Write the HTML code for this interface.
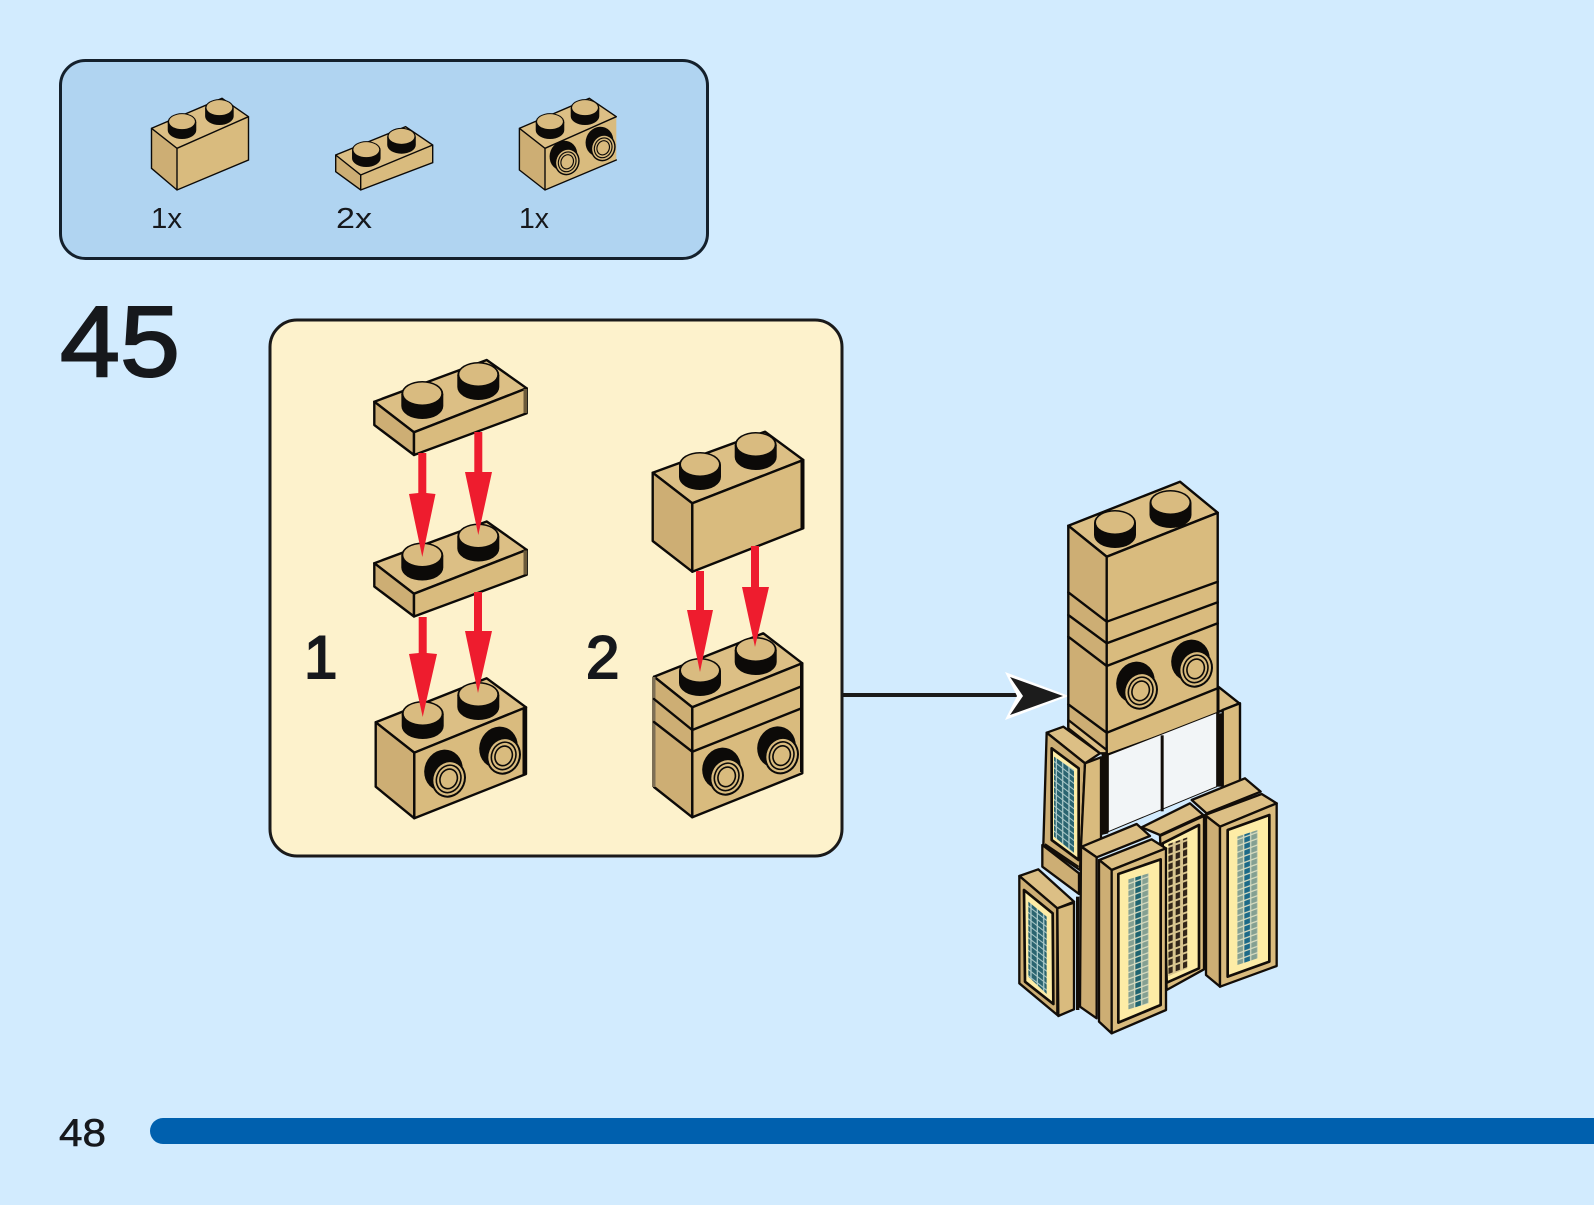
<!DOCTYPE html>
<html><head><meta charset="utf-8"><style>
html,body{margin:0;padding:0;background:#d2ebfe}
svg{display:block}
text{font-family:"Liberation Sans",sans-serif;fill:#16181c}
.t{fill:#dcbf85}.r{fill:#d9bb7e}.l{fill:#cdae74}
.o{stroke:#0c0a08;stroke-width:2.4;stroke-linejoin:round;stroke-linecap:round}
.n{fill:none;stroke:#0c0a08;stroke-width:2.4;stroke-linecap:round}
.z{stroke:#120d08;stroke-width:7;stroke-linejoin:round}
.zc{fill:#fdeca6;stroke:#120d08;stroke-width:8;stroke-linejoin:round}
</style></head><body>
<svg xmlns="http://www.w3.org/2000/svg" width="1594" height="1205" viewBox="0 0 1594 1205">
<defs>
<g id="stud"><path d="M-21 0V12A21 13 0 0 0 21 12V0Z" fill="#0c0a08"/><ellipse rx="21" ry="13" fill="#0c0a08"/><ellipse cy="-.5" rx="19" ry="11" fill="#d9bb80"/></g>
<g id="side"><ellipse cx="-5" cy="-3" rx="19" ry="21" transform="rotate(22)" fill="#0c0a08"/><ellipse cx="3" cy="3" rx="16" ry="18" transform="rotate(22)" fill="#d9bb7e" stroke="#0c0a08" stroke-width="2"/><ellipse cx="3" cy="3" rx="12" ry="14" transform="rotate(22)" fill="none" stroke="#0c0a08" stroke-width="1.6"/><ellipse cx="3" cy="3" rx="8.5" ry="10" transform="rotate(22)" fill="none" stroke="#0c0a08" stroke-width="1.6"/></g>
<g id="plate">
<polygon class="t o" points="374.3,401.7 486.7,360 526.7,388.3 414,432.3"/>
<polygon class="l o" points="374.3,401.7 414,432.3 414,455 374.3,425"/>
<polygon class="r o" points="414,432.3 526.7,388.3 526.7,413.3 414,455"/>
<rect x="523.5" y="389" width="3.5" height="24" fill="#6b5a3a"/>
<use href="#stud" x="422.3" y="394"/><use href="#stud" x="478.3" y="375"/>
</g>
<pattern id="pa" width="19" height="19" patternUnits="userSpaceOnUse" patternTransform="skewY(38)"><rect width="19" height="19" fill="#a9c8c8"/><rect width="15" height="15" fill="#2a6470"/></pattern>
<pattern id="pb" width="61" height="19" patternUnits="userSpaceOnUse" patternTransform="translate(712 0) skewY(-20)"><rect width="61" height="19" fill="#d8dcc0"/><rect width="17" height="15" fill="#84a092"/><rect x="21" width="17" height="15" fill="#1c6a88"/><rect x="42" width="17" height="15" fill="#84a092"/></pattern>
<pattern id="pc" width="61" height="19" patternUnits="userSpaceOnUse" patternTransform="translate(385 0) skewY(-20)"><rect width="61" height="19" fill="#d8dcc0"/><rect width="17" height="15" fill="#84a092"/><rect x="21" width="17" height="15" fill="#1f6470"/><rect x="42" width="17" height="15" fill="#84a092"/></pattern>
<pattern id="pd" width="22" height="24" patternUnits="userSpaceOnUse" patternTransform="translate(505 0) skewY(-20)"><rect width="22" height="24" fill="#d9c58f"/><rect width="13" height="18" fill="#33261a"/></pattern>
</defs>
<rect width="1594" height="1205" fill="#d2ebfe"/>

<!-- parts panel -->
<rect x="60.5" y="60.5" width="647" height="198" rx="25" fill="#b0d4f1" stroke="#14202c" stroke-width="3"/>
<g>
<polygon class="t" points="151.5,128.3 222,98.3 248.5,116.7 177,148.3"/>
<polygon class="l" points="151.5,128.3 177,148.3 177,190 151.5,168.3"/>
<polygon class="r" points="177,148.3 248.5,116.7 248.5,160 177,190"/>
<path class="n" style="stroke-width:1.4" d="M151.5 168.3V128.3L222 98.3 248.5 116.7V160L177 190 151.5 168.3M151.5 128.3L177 148.3V190M177 148.3L248.5 116.7"/>
<use href="#stud" transform="translate(182 122) scale(.68)"/><use href="#stud" transform="translate(219.4 108) scale(.68)"/>
<polygon class="t" points="335.7,155 405.6,126.7 432.7,145 360.7,175"/>
<polygon class="l" points="335.7,155 360.7,175 360.7,190 335.7,171.7"/>
<polygon class="r" points="360.7,175 432.7,145 432.7,162.7 360.7,190"/>
<path class="n" style="stroke-width:1.4" d="M335.7 171.7V155L405.6 126.7 432.7 145V162.7L360.7 190 335.7 171.7M335.7 155L360.7 175V190M360.7 175L432.7 145"/>
<use href="#stud" transform="translate(366.3 150) scale(.68)"/><use href="#stud" transform="translate(401.5 136.7) scale(.68)"/>
<polygon class="t" points="519.4,128.3 589.3,98.3 616.3,116.7 545,148.3"/>
<polygon class="l" points="519.4,128.3 545,148.3 545,190 519.4,170"/>
<polygon class="r" points="545,148.3 616.3,116.7 616.3,160 545,190"/>
<path class="n" style="stroke-width:1.4" d="M519.4 170V128.3L589.3 98.3 616.3 116.7M616.3 160L545 190 519.4 170M519.4 128.3L545 148.3V190M545 148.3L616.3 116.7"/>
<use href="#stud" transform="translate(550 122) scale(.68)"/><use href="#stud" transform="translate(585 108) scale(.68)"/>
<use href="#side" transform="translate(566 159) scale(.72)"/><use href="#side" transform="translate(602 145) scale(.72)"/>
<rect x="617" y="110" width="12" height="60" fill="#b0d4f1"/>
</g>
<text x="151" y="228" font-size="29" textLength="31" lengthAdjust="spacingAndGlyphs">1x</text>
<text x="336" y="228" font-size="29" textLength="36" lengthAdjust="spacingAndGlyphs">2x</text>
<text x="519" y="228" font-size="29" textLength="30" lengthAdjust="spacingAndGlyphs">1x</text>

<text x="60" y="376" font-size="100" textLength="120" lengthAdjust="spacingAndGlyphs" style="stroke:#16181c;stroke-width:2">45</text>

<!-- step panel -->
<rect x="270" y="320" width="572" height="536" rx="27" fill="#fdf2cc" stroke="#1a1a1a" stroke-width="3"/>
<text x="304" y="678" font-size="60" style="stroke:#16181c;stroke-width:2">1</text>
<text x="586" y="678" font-size="60" style="stroke:#16181c;stroke-width:2">2</text>

<!-- connector -->
<rect x="842" y="693" width="175" height="4" fill="#1a1a1a"/>
<polygon points="1005,672 1069,696 1005,720 1017,696" fill="#fff"/>
<polygon points="1010,677 1063,696 1010,715 1023,696" fill="#1c1c1c"/>

<!-- step 1 bricks -->
<use href="#plate"/>
<use href="#plate" y="161.5"/>
<polygon class="t o" points="375.7,722.3 486.7,678.3 526,707.3 414.3,752.7"/>
<polygon class="l o" points="375.7,722.3 414.3,752.7 414.3,818.3 375.7,786.7"/>
<polygon class="r o" points="414.3,752.7 526,707.3 526,774 414.3,818.3"/>
<rect x="522.5" y="708" width="4" height="66" fill="#0c0a08"/>
<use href="#stud" x="422.7" y="714"/><use href="#stud" x="478.3" y="695"/>
<use href="#side" x="447" y="775"/><use href="#side" x="502" y="752"/>

<!-- step 2 bricks -->
<polygon class="t o" points="652.7,472.7 765,431.7 803.3,460 692.3,503.3"/>
<polygon class="l o" points="652.7,472.7 692.3,503.3 692.3,571.7 652.7,541"/>
<polygon class="r o" points="692.3,503.3 803.3,460 803.3,528.3 692.3,571.7"/>
<rect x="800.5" y="460" width="3.5" height="68" fill="#0c0a08"/>
<use href="#stud" x="700" y="465"/><use href="#stud" x="755.7" y="445"/>

<polygon class="t o" points="654,676.7 763.3,633.3 802.3,663.3 692.3,707.3"/>
<polygon class="l o" points="654,676.7 692.3,707.3 692.3,817.3 654,787"/>
<polygon class="r o" points="692.3,707.3 802.3,663.3 802.3,773.3 692.3,817.3"/>
<rect x="652" y="677" width="3.5" height="110" fill="#7d6f55"/>
<rect x="800" y="664" width="3.5" height="108" fill="#0c0a08"/>
<path class="n" d="M654 699L692.3 730 802.3 686M654 722L692.3 751.7 802.3 708"/>
<use href="#stud" x="700" y="671"/><use href="#stud" x="755.7" y="650"/>
<use href="#side" x="725" y="773"/><use href="#side" x="780" y="751.7"/>

<!-- arrows -->
<g fill="#ee1c2e">
<polygon points="418.3,453 426.3,453 426.3,493 435.5,494 422.3,557 409,494 418.3,493"/>
<polygon points="474.3,432 482.3,432 482.3,472 492,472 478.3,535 465,472 474.3,472"/>
<polygon points="418.7,617 426.7,617 426.7,653 437,654 422.7,717 409,654 418.7,653"/>
<polygon points="474,592 482,592 482,631 492,631 478,693 465,631 474,631"/>
<polygon points="696,571 704,571 704,610 713,610 700,672 687,610 696,610"/>
<polygon points="751,546 759,546 759,587 769,587 755,647 742,587 751,587"/>
</g>

<!-- finished model: upper tower -->
<polygon class="t o" points="1068.3,525.7 1180,481.7 1217.7,512.7 1106.7,556.7"/>
<polygon class="l o" points="1068.3,525.7 1106.7,556.7 1106.7,755 1068.3,727"/>
<polygon class="r o" points="1106.7,556.7 1217.7,512.7 1217.7,715 1106.7,755"/>
<path class="n" d="M1068.3 592.3L1106.7 621.7 1217.7 581.7M1068.3 615L1106.7 643.3 1217.7 602.3M1068.3 636.7L1106.7 666 1217.7 623.3M1068.3 704.3L1106.7 732.7 1217.7 688.3"/>
<use href="#stud" x="1115" y="523"/><use href="#stud" x="1170.5" y="503"/>
<use href="#side" x="1139" y="687"/><use href="#side" x="1194" y="665"/>
<polygon class="t o" points="1218.3,686.7 1239.3,703.3 1218.3,712"/>
<polygon class="r o" points="1222.7,710 1240,703.3 1240,785 1222.7,790"/>

<g transform="translate(1000 720) scale(.33333)">
<!-- white windows -->
<polygon points="325,105 650,-22 650,200 325,335" fill="#f2f5f7" stroke="#120d08" stroke-width="3"/>
<rect x="482" y="46" width="9" height="228" fill="#120d08"/>
<polygon points="305,100 325,100 325,340 305,345" fill="#120d08"/>
<rect x="650" y="-20" width="18" height="220" fill="#120d08"/>

<!-- upper left pillar -->
<polygon class="t z" points="140,38 190,20 300,100 255,130"/>
<polygon class="t z" points="205,0 320,90 320,100 300,100 205,25" />
<polygon class="l z" points="140,38 255,130 240,450 130,375"/>
<polygon class="r z" points="255,130 303,112 303,370 242,400"/>
<polygon class="zc" points="155,85 236,145 236,420 155,360"/>
<polygon points="162,110 222,150 222,400 162,350" fill="url(#pa)"/>
<polygon class="l z" points="127,375 237,460 237,522 127,440"/>
<path d="M135 372L236 440" stroke="#120d08" stroke-width="5" fill="none"/>

<!-- middle panel -->
<polygon class="t z" points="425,322 570,250 610,285 480,345"/>
<polygon class="r z" points="480,348 612,288 612,748 500,810"/>
<polygon class="zc" points="488,370 597,315 597,745 500,788"/>
<polygon points="505,372 562,352 562,745 505,768" fill="url(#pd)"/>

<!-- right pillar -->
<polygon class="t z" points="575,240 735,175 782,215 620,280"/>
<polygon class="t z" points="615,285 785,222 830,250 660,320"/>
<polygon class="l z" points="618,288 660,320 660,800 618,765"/>
<polygon class="r z" points="660,320 830,250 830,738 660,800"/>
<polygon class="zc" points="683,330 808,285 808,725 683,770"/>
<polygon points="712,350 773,330 773,715 712,735" fill="url(#pb)"/>

<!-- central pillar -->
<polygon class="t z" points="245,380 410,312 450,348 290,412"/>
<polygon class="l z" points="243,380 290,412 290,895 240,860"/>
<polygon class="t z" points="298,420 455,358 498,385 335,450"/>
<polygon class="l z" points="297,420 335,450 335,940 297,905"/>
<polygon class="r z" points="335,450 498,385 498,870 335,940"/>
<polygon class="zc" points="355,462 482,418 482,855 355,908"/>
<polygon points="385,478 446,460 446,850 385,868" fill="url(#pc)"/>

<!-- lower-left pillar -->
<polygon class="t z" points="58,468 115,448 222,545 172,565"/>
<polygon class="l z" points="58,468 172,565 172,885 58,790"/>
<polygon class="r z" points="172,565 222,548 222,868 175,888"/>
<polygon class="zc" points="72,510 158,580 160,852 75,785"/>
<polygon points="85,545 140,590 140,822 85,770" fill="url(#pa)"/>
<rect x="228" y="530" width="10" height="340" fill="#120d08"/>
</g>

<!-- footer -->
<text x="59" y="1146" font-size="39" textLength="47" lengthAdjust="spacingAndGlyphs" style="stroke:#16181c;stroke-width:.6">48</text>
<path d="M163 1118H1594V1144H163A13 13 0 0 1 163 1118Z" fill="#0060ae"/>
</svg>
</body></html>
